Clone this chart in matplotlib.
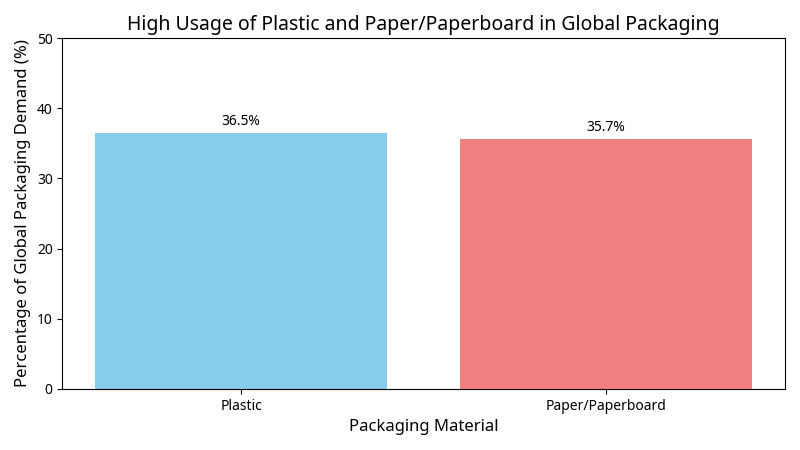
import matplotlib
matplotlib.use("Agg")
import matplotlib.pyplot as plt

plt.rcParams['font.family'] = ['Noto Sans', 'DejaVu Sans']

materials = ["Plastic", "Paper/Paperboard"]
shares = [36.5, 35.7]
colors = ["skyblue", "lightcoral"]

fig, ax = plt.subplots(figsize=(8, 4.5), dpi=100)
bars = ax.bar(materials, shares, color=colors)
for b, v in zip(bars, shares):
    ax.text(b.get_x() + b.get_width() / 2, v + 0.5, f"{v}%",
            ha="center", va="bottom", fontsize=10)
ax.set_ylim(0, 50)
ax.set_title("High Usage of Plastic and Paper/Paperboard in Global Packaging", fontsize=14)
ax.set_xlabel("Packaging Material", fontsize=12)
ax.set_ylabel("Percentage of Global Packaging Demand (%)", fontsize=12)
fig.subplots_adjust(left=0.078, right=0.981, top=0.915, bottom=0.136)
fig.savefig("out.png")
